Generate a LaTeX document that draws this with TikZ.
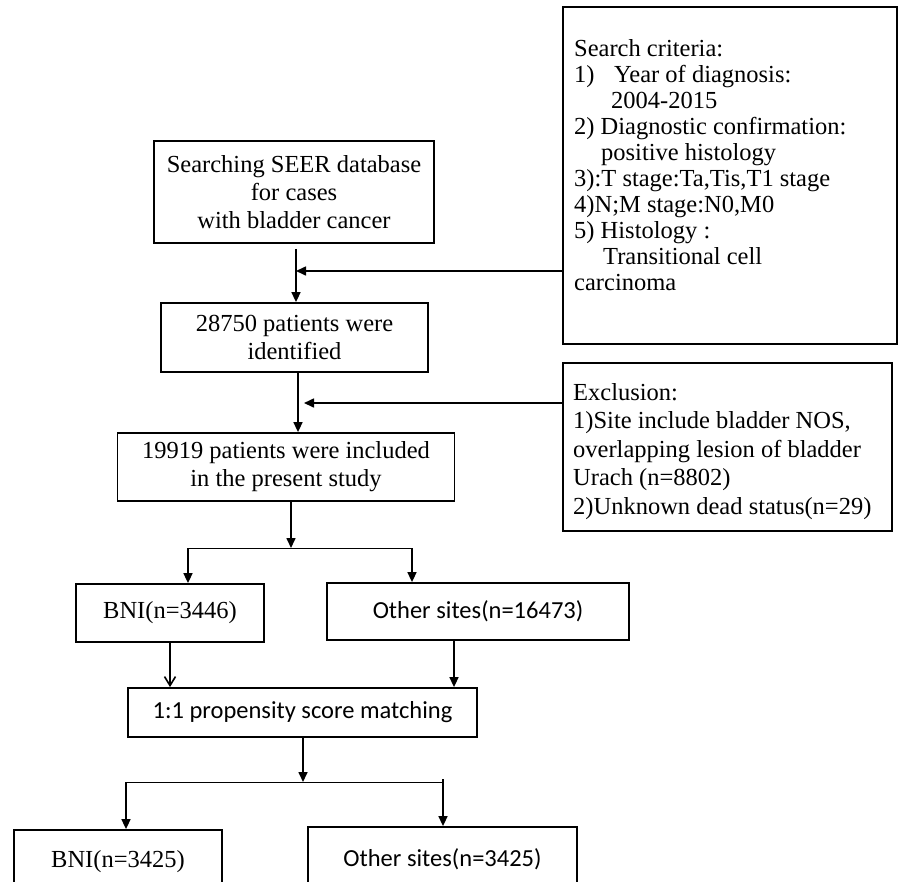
\documentclass[tikz,border=0pt]{standalone}
\usepackage{fontspec}
\setmainfont{Liberation Serif}
\newfontfamily\calfont{Carlito}
\usetikzlibrary{arrows.meta,positioning}

\begin{document}
\begin{tikzpicture}[x=1pt, y=-1pt,
    box/.style={draw, line width=1.8pt, inner sep=0pt, align=center,
        font=\fontsize{24.5}{28}\selectfont},
    sbox/.style={box, font=\calfont\fontsize{24.5}{28}\selectfont},
    txt/.style={inner sep=0pt, align=left, anchor=north west},
    arr/.style={line width=1.6pt, -{Triangle[length=10pt, width=9pt]}},
    openarr/.style={line width=1.6pt, -{Straight Barb[length=9pt, width=11pt]}},
    split/.style={line width=0.9pt}]
                \useasboundingbox (0,0) rectangle (899,881);

                \node[box, minimum width=280, minimum height=102] (S) at (294,192) {Searching SEER database\\for cases\\with bladder cancer};
                \node[box, minimum width=334, minimum height=337] (SC) at (730,175.5) {};
                \node[txt, font=\fontsize{24.5}{26}\selectfont] (SCt) at (574,39) {Search criteria:\\1)\hspace{0.8em}Year of diagnosis:\\\hspace*{37pt}2004-2015\\2) Diagnostic confirmation:\\\hspace*{27pt}positive histology\\3):T stage:Ta,Tis,T1 stage\\4)N;M stage:N0,M0\\5) Histology :\\\hspace*{29pt}Transitional cell\\carcinoma};
                \node[box, minimum width=267, minimum height=69] (N1) at (294.5,337.5) {28750 patients were\\identified};
                \node[box, minimum width=329, minimum height=168] (EX) at (727.5,447) {};
                \node[txt, font=\fontsize{24.5}{28.5}\selectfont] (EXt) at (573,383) {Exclusion:\\1)Site include bladder NOS,\\overlapping lesion of bladder\\Urach (n=8802)\\2)Unknown dead status(n=29)};
                \node[box, minimum width=337, minimum height=68] (N2) at (286,467) {19919 patients were included\\in the present study};
                \node[box, minimum width=188, minimum height=58] (B1) at (170,613) {BNI(n=3446)};
                \node[sbox, minimum width=302, minimum height=57] (O1) at (478,611.5) {Other sites(n=16473)};
                \node[sbox, minimum width=349, minimum height=49] (PSM) at (302.5,712.5) {1:1 propensity score matching};
                \node[box, minimum width=208, minimum height=64] (B2) at (118,862) {BNI(n=3425)};
                \node[sbox, minimum width=269, minimum height=64] (O2) at (442.5,859) {Other sites(n=3425)};

                % selection
                \coordinate (J1) at (296,271);
                \coordinate (J2) at (304,403);
                \draw[arr] ([yshift=-5pt]S.south -| J1) -- (N1.north -| J1);
                \draw[arr] (SC.west |- J1) -- (J1);
                \draw[arr] ([xshift=3.5pt]N1.south) -- ([xshift=3.5pt]N1.south |- N2.north);
                \draw[arr] (EX.west |- J2) -- (J2);

                % first split
                \coordinate (D1) at (291,548);
                \coordinate (L1) at (188,548);
                \coordinate (R1) at (412,548);
                \draw[arr] (N2.south -| D1) -- (D1);
                \draw[split] (L1) -- (R1);
                \draw[arr] (L1) -- (B1.north -| L1);
                \draw[arr] (R1) -- (O1.north -| R1);

                % matching
                \draw[openarr] (B1.south) -- (B1.south |- PSM.north);
                \draw[arr] ([xshift=-24pt]O1.south) -- ([xshift=-24pt]O1.south |- PSM.north);

                % second split
                \coordinate (D2) at (303,782);
                \coordinate (L2) at (126,782);
                \coordinate (R2) at (443,782);
                \draw[arr] (PSM.south -| D2) -- (D2);
                \draw[split] (L2) -- (R2);
                \draw[arr] (L2) -- (B2.north -| L2);
                \draw[arr] ([yshift=3pt]R2) -- (O2.north -| R2);
            \end{tikzpicture}
\end{document}
